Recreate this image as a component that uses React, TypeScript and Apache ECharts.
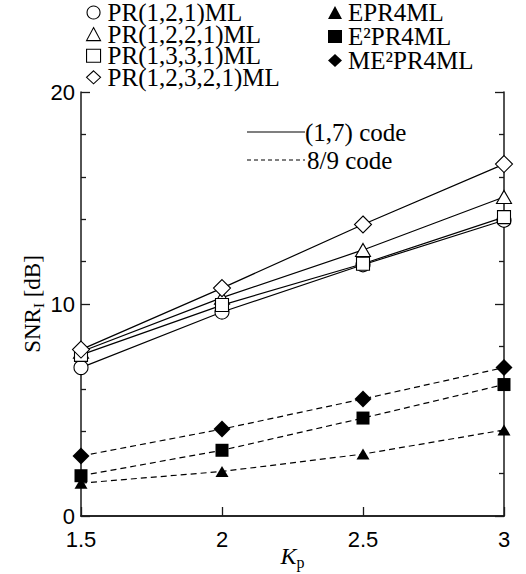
import React, { useEffect, useRef } from "react";
import * as echarts from "echarts";

const kpValues = [1.5, 2, 2.5, 3];
const pr121 = [7.0, 9.62, 11.85, 13.95];
const pr1221 = [7.75, 10.3, 12.55, 15.05];
const pr1331 = [7.6, 9.95, 11.9, 14.1];
const pr12321 = [7.85, 10.75, 13.75, 16.6];
const epr4 = [1.55, 2.1, 2.92, 4.06];
const e2pr4 = [1.9, 3.1, 4.62, 6.2];
const me2pr4 = [2.83, 4.1, 5.52, 7.0];

const xTickLabels = ["1.5", "2", "2.5", "3"];
const yTickLabels = ["0", "10", "20"];

const solidNames = ["PR(1,2,1)ML", "PR(1,2,2,1)ML", "PR(1,3,3,1)ML", "PR(1,2,3,2,1)ML"];
const dashedNames = ["EPR4ML", "E²PR4ML", "ME²PR4ML"];
const codeLabels = ["(1,7) code", "8/9 code"];

const SERIF = "'Liberation Serif', 'Times New Roman', serif";
const SANS = "'Liberation Sans', Arial, sans-serif";

const toPairs = (ys: number[]) => ys.map((y, i) => [kpValues[i], y]);

const openStyle = { color: "#fff", borderColor: "#000", borderWidth: 1.1 };
const filledStyle = { color: "#000", borderColor: "#000", borderWidth: 0 };

export default function App() {
  const ref = useRef<HTMLDivElement>(null);
  useEffect(() => {
    if (!ref.current) return;
    const chart = echarts.init(ref.current, undefined, { renderer: "svg" });

    const solidDefs = [
      { name: solidNames[0], data: pr121, symbol: "circle", size: 14 },
      { name: solidNames[1], data: pr1221, symbol: "triangle", size: [15, 13] },
      { name: solidNames[2], data: pr1331, symbol: "rect", size: 13 },
      { name: solidNames[3], data: pr12321, symbol: "diamond", size: 17 },
    ];
    const dashedDefs = [
      { name: dashedNames[0], data: epr4, symbol: "triangle", size: [13, 11] },
      { name: dashedNames[1], data: e2pr4, symbol: "rect", size: 13 },
      { name: dashedNames[2], data: me2pr4, symbol: "diamond", size: 17 },
    ];

    const series: any[] = [];
    solidDefs.forEach((d) => {
      series.push({
        type: "line",
        name: d.name,
        data: toPairs(d.data),
        symbol: d.symbol,
        symbolSize: d.size,
        showAllSymbol: true,
        lineStyle: { color: "#000", width: 1.2, type: "solid" },
        itemStyle: openStyle,
        z: 3,
      });
    });
    dashedDefs.forEach((d) => {
      series.push({
        type: "line",
        name: d.name,
        data: toPairs(d.data),
        symbol: d.symbol,
        symbolSize: d.size,
        showAllSymbol: true,
        lineStyle: { color: "#000", width: 1.2, type: [6, 4] },
        itemStyle: filledStyle,
        z: 3,
      });
    });

    const axisLine = { show: true, lineStyle: { color: "#1a1a1a", width: 1.5 } };

    chart.setOption({
      animation: false,
      backgroundColor: "#fff",
      grid: { left: 81, right: 22, top: 92, bottom: 58, outerBoundsMode: "none", containLabel: false },
      legend: [
        {
          orient: "vertical",
          left: 86,
          top: 0,
          padding: 0,
          itemWidth: 14,
          itemHeight: 13,
          itemGap: -3.4,
          symbolKeepAspect: true,
          selectedMode: false,
          textStyle: { fontFamily: SERIF, fontSize: 25, color: "#000", padding: [0, 0, 0, 2] },
          data: solidDefs.map((d) => ({
            name: d.name,
            icon: d.symbol,
            itemStyle: openStyle,
          })),
        },
        {
          orient: "vertical",
          left: 328,
          top: 0,
          padding: 0,
          itemWidth: 14,
          itemHeight: 13,
          itemGap: -1,
          symbolKeepAspect: true,
          selectedMode: false,
          textStyle: { fontFamily: SERIF, fontSize: 25, color: "#000", padding: [0, 0, 0, 1] },
          data: dashedDefs.map((d) => ({
            name: d.name,
            icon: d.symbol,
            itemStyle: filledStyle,
          })),
        },
      ],
      xAxis: [
        {
          type: "value",
          min: 1.5,
          max: 3,
          interval: 0.5,
          position: "bottom",
          axisLine,
          axisTick: { show: true, inside: true, length: 9, lineStyle: { color: "#1a1a1a", width: 1.3 } },
          axisLabel: {
            margin: 14,
            fontFamily: SANS,
            fontSize: 22,
            lineHeight: 18,
            color: "#000",
            formatter: (v: number) => {
              const i = kpValues.indexOf(v);
              return i >= 0 ? xTickLabels[i] : "";
            },
          },
          splitLine: { show: false },
          name: "{k|K}{s|p}",
          nameLocation: "middle",
          nameGap: 28,
          nameMoveOverlap: false,
          nameTextStyle: {
            rich: {
              k: { fontFamily: SERIF, fontStyle: "italic", fontSize: 24, color: "#000", lineHeight: 24, verticalAlign: "top" },
              s: { fontFamily: SERIF, fontSize: 16, color: "#000", lineHeight: 36 },
            },
          },
        },
        {
          type: "value",
          min: 1.5,
          max: 3,
          interval: 0.5,
          position: "top",
          axisLine,
          axisTick: { show: false },
          axisLabel: { show: false },
          splitLine: { show: false },
        },
      ],
      yAxis: [
        {
          type: "value",
          min: 0,
          max: 20,
          interval: 10,
          position: "left",
          axisLine,
          axisTick: { show: true, inside: true, length: 9, lineStyle: { color: "#1a1a1a", width: 1.3 } },
          minorTick: { show: true, splitNumber: 5, length: 5, lineStyle: { color: "#1a1a1a", width: 1.3 } },
          axisLabel: {
            margin: 6,
            fontFamily: SANS,
            fontSize: 22,
            lineHeight: 18,
            color: "#000",
            formatter: (v: number) => yTickLabels[v / 10] ?? "",
          },
          splitLine: { show: false },
          name: "{n|SNR}{s|I}{n| [dB]}",
          nameLocation: "middle",
          nameRotate: 90,
          nameGap: 25,
          nameMoveOverlap: false,
          nameTextStyle: {
            rich: {
              n: { fontFamily: SERIF, fontSize: 23, color: "#000", lineHeight: 23, verticalAlign: "top" },
              s: { fontFamily: SERIF, fontSize: 15, color: "#000", lineHeight: 35 },
            },
          },
        },
        {
          type: "value",
          min: 0,
          max: 20,
          interval: 10,
          position: "right",
          axisLine,
          axisTick: { show: true, inside: true, length: 9, lineStyle: { color: "#1a1a1a", width: 1.3 } },
          minorTick: { show: true, splitNumber: 5, length: 5, lineStyle: { color: "#1a1a1a", width: 1.3 } },
          axisLabel: { show: false },
          splitLine: { show: false },
        },
      ],
      graphic: [
        {
          type: "line",
          shape: { x1: 247, y1: 132, x2: 305, y2: 132 },
          style: { stroke: "#000", lineWidth: 1.2 },
        },
        {
          type: "text",
          x: 305,
          y: 132,
          style: { text: codeLabels[0], fontFamily: SERIF, fontSize: 25, fill: "#000", align: "left", verticalAlign: "middle" },
        },
        {
          type: "line",
          shape: { x1: 247, y1: 160, x2: 305, y2: 160 },
          style: { stroke: "#000", lineWidth: 1.2, lineDash: [4, 3] },
        },
        {
          type: "text",
          x: 307,
          y: 160,
          style: { text: codeLabels[1], fontFamily: SERIF, fontSize: 25, fill: "#000", align: "left", verticalAlign: "middle" },
        },
      ],
      series,
    });

    return () => chart.dispose();
  }, []);

  return <div ref={ref} style={{ width: 526, height: 574, position: "absolute", left: 0, top: 0 }} />;
}
